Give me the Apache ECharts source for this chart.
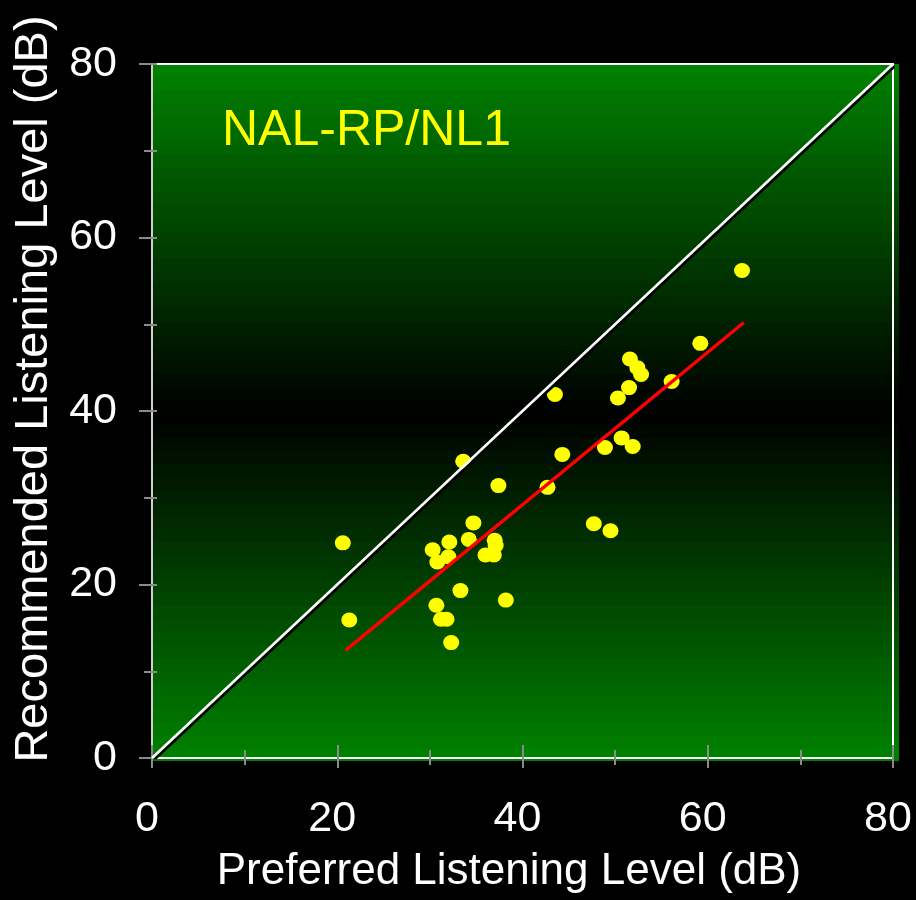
<!DOCTYPE html>
<html>
<head>
<meta charset="utf-8">
<script src="https://cdn.jsdelivr.net/npm/echarts@6/dist/echarts.min.js"></script>
<style>
html,body{margin:0;padding:0;background:#000;}
#chart{width:916px;height:900px;}
</style>
</head>
<body>
<div id="chart"></div>
<script>
// ---- data ----
const titleText = 'NAL-RP/NL1';
const xAxisName = 'Preferred Listening Level (dB)';
const yAxisName = 'Recommended Listening Level (dB)';
const axisTicks = [0, 20, 40, 60, 80];

const preferred = [20.6, 21.3, 33.6, 30.3, 32.1, 34.2, 34.7, 30.8, 32.0, 37.0, 37.1, 36.0, 36.9,
  33.3, 30.7, 31.2, 31.8, 32.3, 38.2, 37.4, 42.7,
  63.7, 59.2, 56.1, 51.6, 52.4, 52.8, 51.5, 50.3, 43.5, 50.7, 51.9, 48.9, 44.3, 47.7, 49.5];
const recommended = [24.8, 15.9, 34.2, 24.0, 24.9, 25.2, 27.1, 22.6, 23.2, 25.1, 24.5, 23.4, 23.4,
  19.3, 17.6, 16.0, 16.0, 13.3, 18.2, 31.4, 31.2,
  56.2, 47.8, 43.4, 46.0, 45.0, 44.2, 42.7, 41.5, 41.9, 36.9, 35.9, 35.8, 35.0, 27.0, 26.2];

const identityX = [0, 80];
const identityY = [0, 80];
const fitX = [20.9, 63.9];
const fitY = [12.4, 50.2];

// ---- build ----
const points = preferred.map((x, i) => [x, recommended[i]]);
const identityLine = identityX.map((x, i) => [x, identityY[i]]);
const fitLine = fitX.map((x, i) => [x, fitY[i]]);

function bandedGradient(n) {
  const stops = [];
  for (let i = 0; i < n; i++) {
    const t0 = i / n, t1 = (i + 1) / n, mid = (t0 + t1) / 2;
    const g = Math.round(130 * Math.abs(1 - 2 * mid));
    const c = 'rgb(0,' + g + ',0)';
    stops.push({offset: t0, color: c});
    stops.push({offset: t1, color: c});
  }
  return new echarts.graphic.LinearGradient(0, 0, 0, 1, stops);
}

const FONT = "'Liberation Sans', Arial, Helvetica, sans-serif";
const tickGray = '#8a8a8a';

const chart = echarts.init(document.getElementById('chart'), null, {renderer: 'canvas'});

const option = {
  backgroundColor: '#000',
  animation: false,
  title: {
    text: titleText,
    left: 222,
    top: 106,
    padding: 0,
    textStyle: {color: '#ffff00', fontSize: 50, fontWeight: 'normal', fontFamily: FONT}
  },
  grid: [
    {left: 152, top: 64, right: 23, bottom: 142, show: true, backgroundColor: 'transparent',
     borderColor: '#ffffff', borderWidth: 2, z: 1},
    {left: 152, top: 64, right: 17, bottom: 139, show: true, backgroundColor: bandedGradient(54),
     borderWidth: 0, z: 0}
  ],
  xAxis: [
    {
      gridIndex: 0, type: 'value', min: 0, max: 80, interval: 20, position: 'bottom', z: 2,
      name: xAxisName, nameLocation: 'middle', nameGap: 92,
      nameTextStyle: {color: '#fff', fontSize: 44, fontFamily: FONT, padding: [0, 27, 0, 0]},
      axisLine: {show: true, onZero: false, lineStyle: {color: '#ffffff', width: 2}},
      axisTick: {show: true, inside: false, length: 10, lineStyle: {color: tickGray, width: 2}},
      minorTick: {show: true, splitNumber: 2, length: 7, lineStyle: {color: tickGray, width: 2}},
      splitLine: {show: false}, minorSplitLine: {show: false},
      axisLabel: {color: '#fff', fontSize: 43, fontFamily: FONT, margin: 40, padding: [0, 10, 0, 0],
        formatter: v => axisTicks.includes(v) ? String(v) : ''}
    },
    {
      gridIndex: 0, type: 'value', min: 0, max: 80, interval: 20, position: 'bottom', z: 2,
      axisLine: {show: false, onZero: false},
      axisTick: {show: true, inside: true, length: 13, lineStyle: {color: tickGray, width: 2}},
      minorTick: {show: true, splitNumber: 2, length: 8, lineStyle: {color: tickGray, width: 2}},
      splitLine: {show: false}, axisLabel: {show: false}
    },
    {gridIndex: 1, type: 'value', min: 0, max: 80, show: false}
  ],
  yAxis: [
    {
      gridIndex: 0, type: 'value', min: 0, max: 80, interval: 20, position: 'left', z: 2,
      name: yAxisName, nameLocation: 'middle', nameGap: 94,
      nameTextStyle: {color: '#fff', fontSize: 47, fontFamily: FONT, padding: [0, 0, 0, 44]},
      axisLine: {show: true, onZero: false, lineStyle: {color: '#cfcfcf', width: 2}},
      axisTick: {show: true, inside: false, length: 13, lineStyle: {color: tickGray, width: 2}},
      minorTick: {show: true, splitNumber: 2, length: 8, lineStyle: {color: tickGray, width: 2}},
      splitLine: {show: false}, minorSplitLine: {show: false},
      axisLabel: {color: '#fff', fontSize: 43, fontFamily: FONT, margin: 35,
        formatter: v => axisTicks.includes(v) ? String(v) : ''}
    },
    {
      gridIndex: 0, type: 'value', min: 0, max: 80, interval: 20, position: 'left', z: 2,
      axisLine: {show: false, onZero: false},
      axisTick: {show: true, inside: true, length: 5, lineStyle: {color: tickGray, width: 2}},
      minorTick: {show: true, splitNumber: 2, length: 5, lineStyle: {color: tickGray, width: 2}},
      splitLine: {show: false}, axisLabel: {show: false}
    },
    {gridIndex: 1, type: 'value', min: 0, max: 80, show: false}
  ],
  series: [
    {
      type: 'scatter', xAxisIndex: 0, yAxisIndex: 0, z: 3,
      data: points, symbol: 'circle', symbolSize: [16, 15],
      itemStyle: {color: '#ffff00', opacity: 1}
    },
    {
      type: 'line', xAxisIndex: 0, yAxisIndex: 0, z: 4,
      data: identityLine, symbol: 'none',
      lineStyle: {color: '#ffffff', width: 2.5, shadowColor: '#000', shadowBlur: 0, shadowOffsetX: 2, shadowOffsetY: 2}
    },
    {
      type: 'line', xAxisIndex: 0, yAxisIndex: 0, z: 5,
      data: fitLine, symbol: 'none',
      lineStyle: {color: '#ff0000', width: 3.5}
    }
  ]
};
chart.setOption(option);
</script>
</body>
</html>
